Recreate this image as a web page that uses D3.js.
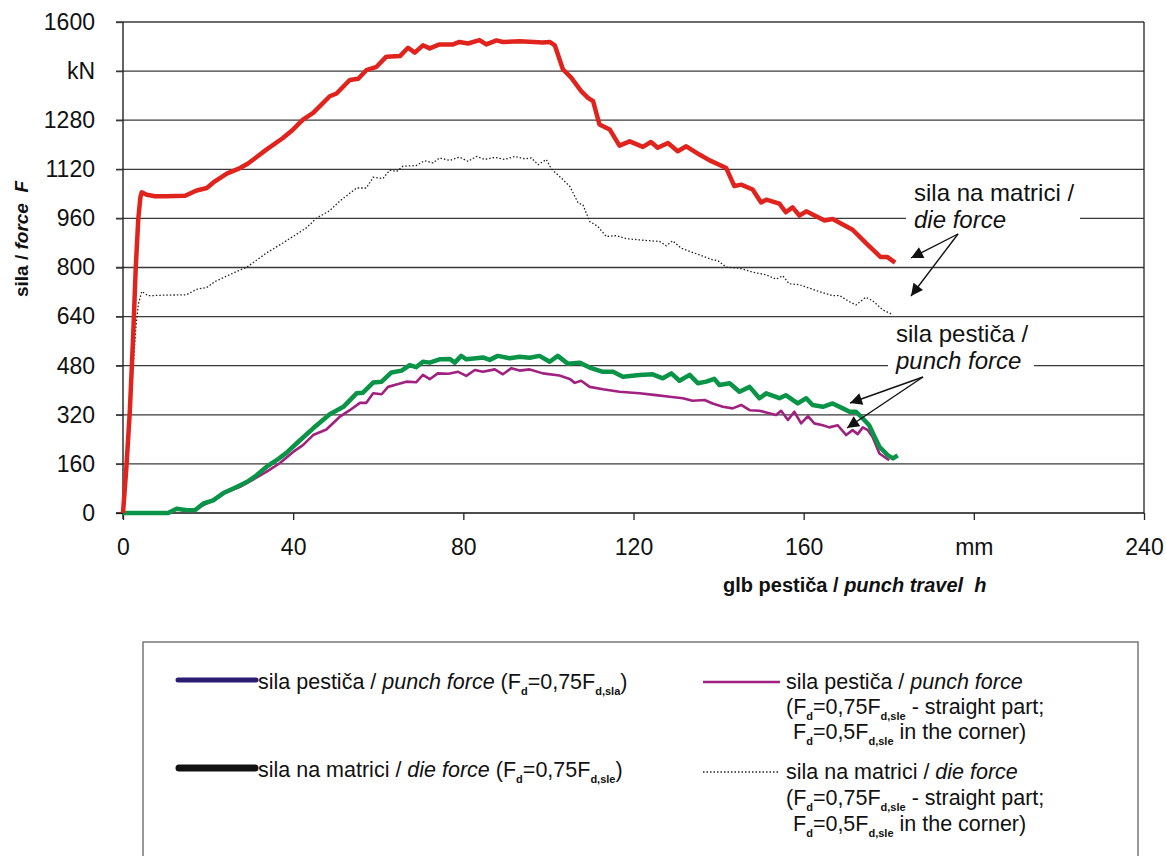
<!DOCTYPE html>
<html>
<head>
<meta charset="utf-8">
<script src="https://cdn.jsdelivr.net/npm/d3@7"></script>
<style>
  body { margin: 0; background: #fff; }
  text { font-family: "Liberation Sans", Arial, sans-serif; fill: #111; white-space: pre; }
</style>
</head>
<body>
<div id="chart"></div>
<script>
// axis ticks
const xTicks = [0, 40, 80, 120, 160, 200, 240];
const xTickLabels = ["0", "40", "80", "120", "160", "mm", "240"];
const yTicks = [0, 160, 320, 480, 640, 800, 960, 1120, 1280, 1440, 1600];
const yTickLabels = ["0", "160", "320", "480", "640", "800", "960", "1120", "1280", "kN", "1600"];

// die force, Fd = 0,75 Fd,sle  [mm, kN]
const dieForce = [[0,0],[0.8,150],[1.6,330],[2.4,580],[3.0,800],[3.6,960],[4.1,1030],[4.4,1045],[5.6,1037],[7.5,1032],[10,1032],[14.6,1034],[17.3,1051],[19.7,1059],[21.6,1081],[24.4,1106],[27.5,1124],[29.4,1139],[33.7,1184],[37.6,1222],[40,1250],[42.3,1282],[44.7,1304],[48.6,1358],[50.2,1367],[53.3,1411],[55.3,1415],[57.2,1443],[59.6,1454],[61.9,1487],[65.1,1489],[67,1516],[68.6,1500],[70.5,1524],[72.1,1514],[74.4,1527],[77.6,1527],[79.1,1535],[81.1,1530],[83.8,1541],[85.4,1527],[87.8,1540],[89.3,1535],[93.2,1537],[98.7,1533],[100.3,1535],[101.5,1524],[103.4,1446],[105.4,1418],[107.7,1375],[109.3,1353],[110.5,1342],[112,1266],[114.4,1250],[116.7,1197],[119.1,1211],[122.2,1193],[124.1,1209],[125.7,1190],[128.1,1206],[130.4,1179],[132.4,1195],[135.5,1168],[137.9,1149],[141.8,1124],[143.7,1065],[145.3,1070],[148,1054],[150,1012],[151.2,1021],[154.3,1008],[155.8,980],[157.4,996],[159,969],[160.6,983],[164.9,953],[166.8,958],[171.5,923],[174.6,880],[178.1,834],[179.7,834],[181.5,816]];

// die force, 0,75 straight part / 0,5 in the corner
const dieForceCorner = [[0,0],[1,170],[2,400],[3,600],[3.6,680],[4.4,722],[5.9,708],[10,710],[14.9,711],[17.3,729],[19.7,735],[21.6,754],[25.9,782],[29.1,801],[33.7,847],[37.6,880],[43.1,929],[45.5,961],[48.6,985],[50.9,1016],[54.9,1059],[57.2,1059],[58.8,1094],[61.1,1090],[62.7,1117],[64.3,1113],[65.8,1130],[68.9,1132],[70.9,1148],[72.9,1141],[74.4,1157],[76.8,1149],[79.1,1160],[81.1,1146],[83.1,1162],[85,1152],[87.4,1159],[89.7,1152],[92.1,1162],[94.4,1154],[96,1157],[97.6,1135],[99.5,1152],[100.7,1121],[102.6,1097],[105,1065],[107,1010],[108.1,1005],[109.7,950],[111.6,934],[113.6,901],[115.9,904],[118.3,894],[123,888],[126.1,885],[127.7,871],[129.2,887],[131.2,863],[135.5,841],[138.6,825],[139.8,823],[141.8,801],[144.9,798],[148,785],[151.2,776],[153.5,762],[155.1,773],[156.6,747],[159,744],[162.9,725],[166.8,708],[168.4,709],[170.7,689],[172.3,678],[174.6,703],[176.2,692],[178.6,662],[181,646]];

// punch force, Fd = 0,75 Fd,sla
const punchForce = [[0,0],[10.6,0],[12.6,14],[15,9],[16.9,9],[18.9,31],[21.2,41],[23.6,65],[26.7,85],[29.1,101],[31.4,123],[33.7,150],[36.1,172],[38.4,196],[41.6,237],[44.7,276],[48.6,322],[51.8,346],[54.9,390],[56.4,392],[58.8,425],[60.8,428],[63.1,458],[65.5,464],[67.4,482],[68.9,475],[70.5,493],[72.1,490],[74.4,501],[76.8,502],[78,490],[79.5,512],[80.7,501],[84.6,507],[86.2,499],[88.1,512],[90.9,504],[93.2,509],[95.6,506],[97.9,512],[100.3,493],[102.2,512],[104.6,486],[107.3,490],[109.7,474],[112.8,460],[115.2,460],[117.5,444],[121.4,450],[124.5,452],[126.9,439],[128.9,455],[130.8,431],[133.2,450],[135.1,423],[137.1,428],[139,437],[140.2,417],[142.6,423],[144.9,395],[147.3,411],[149.6,374],[151.2,390],[154.3,374],[155.8,384],[158.6,357],[160.6,374],[162.1,352],[164.5,346],[166.8,357],[169.2,341],[170.8,330],[172.3,330],[173.9,308],[175.4,286],[176.7,248],[177.8,216],[179.8,188],[181,178],[182.1,188]];

// punch force, 0,75 straight part / 0,5 in the corner
const punchForceCorner = [[0,0],[11,0],[12.6,14],[14.5,8],[16.6,4],[18.1,20],[20.4,36],[23.6,63],[27.5,85],[30.6,109],[33.7,134],[36.9,163],[40,199],[42.3,221],[44.7,254],[47.8,272],[50.9,313],[53.3,335],[55.7,359],[57.2,359],[58.8,390],[60.8,387],[62.3,411],[64.7,420],[66.6,428],[68.9,426],[70.5,450],[72.1,436],[74,455],[76.5,454],[78.8,460],[80.7,447],[82.7,466],[84.6,460],[87.4,468],[89.3,452],[91.3,472],[93.2,464],[95.6,468],[98.7,455],[102.6,448],[105,437],[106.2,424],[107.7,431],[109.7,411],[112.8,403],[116.7,395],[121.4,390],[125.3,384],[128.5,379],[131.6,374],[133.9,366],[136.7,368],[138.6,357],[141,346],[143.3,341],[145.3,352],[147.3,335],[149.6,333],[151.9,325],[153.5,319],[154.7,333],[156.3,303],[157.8,330],[159.4,292],[161,316],[162.5,292],[164.5,286],[166,279],[168,286],[170,254],[171.5,270],[172.7,257],[173.9,279],[175.1,270],[176.2,248],[177.8,194],[180.1,172]];

const width = 1166, height = 856;
const plotLeft = 123, plotRight = 1144, plotTop = 22, plotBottom = 513;

const svg = d3.select("#chart").append("svg")
    .attr("width", width)
    .attr("height", height)
    .style("display", "block");

svg.append("rect").attr("width", width).attr("height", height).attr("fill", "#fff");

const x = d3.scaleLinear().domain([0, 240]).range([plotLeft, plotRight]);
const y = d3.scaleLinear().domain([0, 1600]).range([plotBottom, plotTop]);

// gridlines
svg.append("g")
  .selectAll("line")
  .data(yTicks.slice(1))
  .join("line")
    .attr("x1", plotLeft - 7)
    .attr("x2", plotRight)
    .attr("y1", d => y(d))
    .attr("y2", d => y(d))
    .attr("stroke", "#3a3a3a")
    .attr("stroke-width", 1.3);

// right border of the plot
svg.append("line")
    .attr("x1", plotRight).attr("x2", plotRight)
    .attr("y1", plotTop).attr("y2", plotBottom)
    .attr("stroke", "#222").attr("stroke-width", 1.3);

// white boxes behind the annotations (they break the gridlines)
svg.append("rect").attr("x", 906).attr("y", 180).attr("width", 174).attr("height", 58).attr("fill", "#fff");
svg.append("rect").attr("x", 888).attr("y", 324).attr("width", 146).attr("height", 56).attr("fill", "#fff");

// axes
const yAxis = svg.append("g")
    .attr("transform", `translate(${plotLeft},0)`)
    .call(d3.axisLeft(y).tickValues(yTicks).tickSize(7).tickSizeOuter(0)
        .tickFormat((d, i) => yTickLabels[i]).tickPadding(21));
yAxis.select(".domain").attr("stroke", "#111").attr("stroke-width", 1.3).attr("d", `M0,${plotTop}V${plotBottom + 6}`);
yAxis.selectAll(".tick line").attr("stroke", "#3a3a3a").attr("stroke-width", 1.3);
yAxis.selectAll("text").attr("font-size", 23).attr("font-family", null).attr("fill", "#111");

const xAxis = svg.append("g")
    .attr("transform", `translate(0,${plotBottom})`)
    .call(d3.axisBottom(x).tickValues(xTicks).tickSize(7).tickSizeOuter(0)
        .tickFormat((d, i) => xTickLabels[i]));
xAxis.select(".domain").attr("stroke", "#111").attr("stroke-width", 1.5).attr("d", `M${plotLeft - 7},0H${plotRight}`);
xAxis.selectAll(".tick line").attr("stroke", "#222").attr("stroke-width", 1.3);
xAxis.selectAll("text").attr("y", 42).attr("dy", null)
    .attr("font-size", 23).attr("font-family", null).attr("fill", "#111");

// axis titles
const yTitle = svg.append("text")
    .attr("transform", "translate(28,239) rotate(-90)")
    .attr("text-anchor", "middle")
    .attr("font-size", 19)
    .attr("font-weight", "bold");
yTitle.append("tspan").text("sila / ");
yTitle.append("tspan").attr("font-style", "italic").text("force  F");

const xTitle = svg.append("text")
    .attr("x", 723).attr("y", 592)
    .attr("font-size", 20)
    .attr("font-weight", "bold");
xTitle.append("tspan").text("glb pestiča / ");
xTitle.append("tspan").attr("font-style", "italic").text("punch travel  h");

// curves
const line = d3.line().x(d => x(d[0])).y(d => y(d[1]));

svg.append("path").datum(dieForceCorner)
    .attr("d", line).attr("fill", "none")
    .attr("stroke", "#222").attr("stroke-width", 1.3).attr("stroke-dasharray", "1.5,2");
svg.append("path").datum(punchForceCorner)
    .attr("d", line).attr("fill", "none")
    .attr("stroke", "#a0217f").attr("stroke-width", 2.6).attr("stroke-linejoin", "round");
svg.append("path").datum(punchForce)
    .attr("d", line).attr("fill", "none")
    .attr("stroke", "#0a9447").attr("stroke-width", 4.5).attr("stroke-linejoin", "round");
svg.append("path").datum(dieForce)
    .attr("d", line).attr("fill", "none")
    .attr("stroke", "#e0231d").attr("stroke-width", 4.5).attr("stroke-linejoin", "round");

// annotations
svg.append("defs").append("marker")
    .attr("id", "arrow")
    .attr("viewBox", "0 0 10 10")
    .attr("refX", 10).attr("refY", 5)
    .attr("markerUnits", "userSpaceOnUse")
    .attr("markerWidth", 15).attr("markerHeight", 12)
    .attr("orient", "auto")
  .append("path")
    .attr("d", "M0,0L10,5L0,10Z")
    .attr("fill", "#111");

function arrow(x1, y1, x2, y2) {
  svg.append("line")
      .attr("x1", x1).attr("y1", y1).attr("x2", x2).attr("y2", y2)
      .attr("stroke", "#111").attr("stroke-width", 1.4)
      .attr("marker-end", "url(#arrow)");
}

function twoLine(xp, yp, first, second) {
  svg.append("text").attr("x", xp).attr("y", yp).attr("font-size", 24).text(first);
  svg.append("text").attr("x", xp).attr("y", yp + 27).attr("font-size", 24)
      .attr("font-style", "italic").text(second);
}

twoLine(914, 201, "sila na matrici /", "die force");
arrow(958, 234, 911, 258);
arrow(958, 234, 911, 296);

twoLine(896, 342, "sila pestiča /", "punch force");
arrow(923, 377, 850, 403);
arrow(923, 377, 847, 428);

// legend
svg.append("rect")
    .attr("x", 143).attr("y", 642)
    .attr("width", 995).attr("height", 300)
    .attr("fill", "none").attr("stroke", "#777").attr("stroke-width", 1.5);

function rich(xp, yp, parts) {
  const t = svg.append("text").attr("x", xp).attr("y", yp).attr("font-size", 21.5);
  let shifted = false;
  parts.forEach(p => {
    const s = t.append("tspan").text(p.t);
    if (p.i) s.attr("font-style", "italic");
    if (p.sub) {
      s.attr("font-size", 11).attr("font-weight", "bold");
      if (!shifted) { s.attr("dy", 6); shifted = true; }
    } else if (shifted) {
      s.attr("dy", -6);
      shifted = false;
    }
  });
}

svg.append("line").attr("x1", 178).attr("x2", 256).attr("y1", 680).attr("y2", 680)
    .attr("stroke", "#2b1c72").attr("stroke-width", 5).attr("stroke-linecap", "round");
rich(258, 689, [{t: "sila pestiča / "}, {t: "punch force", i: true}, {t: " (F"}, {t: "d", sub: true},
    {t: "=0,75F"}, {t: "d,sla", sub: true}, {t: ")"}]);

svg.append("line").attr("x1", 179).attr("x2", 255).attr("y1", 768).attr("y2", 768)
    .attr("stroke", "#111").attr("stroke-width", 7).attr("stroke-linecap", "round");
rich(258, 777, [{t: "sila na matrici / "}, {t: "die force", i: true}, {t: " (F"}, {t: "d", sub: true},
    {t: "=0,75F"}, {t: "d,sle", sub: true}, {t: ")"}]);

svg.append("line").attr("x1", 703).attr("x2", 780).attr("y1", 682).attr("y2", 682)
    .attr("stroke", "#a0217f").attr("stroke-width", 2.5);
rich(786, 689, [{t: "sila pestiča / "}, {t: "punch force", i: true}]);
rich(786, 714, [{t: "(F"}, {t: "d", sub: true}, {t: "=0,75F"}, {t: "d,sle", sub: true}, {t: " - straight part;"}]);
rich(793, 739, [{t: "F"}, {t: "d", sub: true}, {t: "=0,5F"}, {t: "d,sle", sub: true}, {t: " in the corner)"}]);

svg.append("line").attr("x1", 703).attr("x2", 780).attr("y1", 772).attr("y2", 772)
    .attr("stroke", "#222").attr("stroke-width", 1.3).attr("stroke-dasharray", "1.5,2");
rich(786, 779, [{t: "sila na matrici / "}, {t: "die force", i: true}]);
rich(786, 805, [{t: "(F"}, {t: "d", sub: true}, {t: "=0,75F"}, {t: "d,sle", sub: true}, {t: " - straight part;"}]);
rich(793, 831, [{t: "F"}, {t: "d", sub: true}, {t: "=0,5F"}, {t: "d,sle", sub: true}, {t: " in the corner)"}]);
</script>
</body>
</html>
